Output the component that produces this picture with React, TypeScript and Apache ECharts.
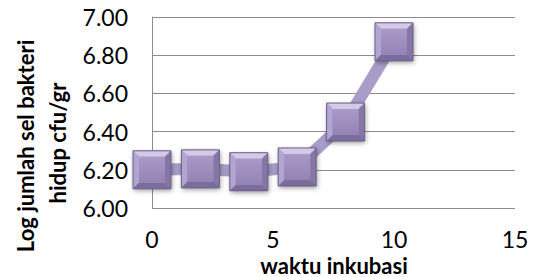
import React, { useEffect, useRef } from "react";
import * as echarts from "echarts";

const incubationTimes = [0, 2, 4, 6, 8, 10];
const logCounts = [6.2, 6.205, 6.19, 6.215, 6.45, 6.87];
const yAxisTitleLines = ["Log jumlah sel bakteri", "hidup cfu/gr"];
const xAxisTitle = "waktu inkubasi";

const FONT = "Lato, 'DejaVu Sans', sans-serif";

export default function App() {
  const ref = useRef<HTMLDivElement>(null);
  useEffect(() => {
    if (!ref.current) return;
    const chart = echarts.init(ref.current, undefined, { renderer: "svg" });
    const points = incubationTimes.map((x, i) => [x, logCounts[i]]);
    chart.setOption({
      animation: false,
      backgroundColor: "#ffffff",
      grid: { left: 152, right: 19, top: 17, bottom: 69 },
      xAxis: {
        type: "value",
        min: 0,
        max: 15,
        interval: 5,
        axisLine: { show: false },
        axisTick: { show: false },
        splitLine: { show: false },
        axisLabel: { color: "#000", fontSize: 23, fontFamily: FONT, margin: 19 },
      },
      yAxis: {
        type: "value",
        min: 6,
        max: 7,
        interval: 0.2,
        axisLine: { show: true, lineStyle: { color: "#8c8c8c", width: 1 } },
        axisTick: { show: false },
        splitLine: { show: true, lineStyle: { color: "#8c8c8c", width: 1 } },
        axisLabel: {
          color: "#000",
          fontSize: 23,
          fontFamily: FONT,
          margin: 24,
          formatter: (v: number) => v.toFixed(2),
        },
      },
      graphic: [
        {
          type: "text",
          x: 25,
          y: 146,
          rotation: Math.PI / 2,
          style: {
            text: yAxisTitleLines[0],
            font: `bold 22px ${FONT}`,
            fill: "#000",
            textAlign: "center",
            textVerticalAlign: "middle",
          },
        },
        {
          type: "text",
          x: 57,
          y: 143,
          rotation: Math.PI / 2,
          style: {
            text: yAxisTitleLines[1],
            font: `bold 22px ${FONT}`,
            fill: "#000",
            textAlign: "center",
            textVerticalAlign: "middle",
          },
        },
        {
          type: "text",
          x: 334,
          y: 265,
          style: {
            text: xAxisTitle,
            font: `bold 22px ${FONT}`,
            fill: "#000",
            textAlign: "center",
            textVerticalAlign: "middle",
          },
        },
      ],
      series: [
        {
          type: "line",
          data: points,
          showSymbol: false,
          lineStyle: { color: "#a89cc8", width: 12 },
          z: 1,
        },
        {
          type: "custom",
          data: points,
          z: 2,
          renderItem: (params: any, api: any) => {
            const p = api.coord([api.value(0), api.value(1)]);
            const s = 38;
            const h = s / 2;
            const b = 6;
            const x0 = p[0] - h,
              x1 = p[0] + h,
              y0 = p[1] - h,
              y1 = p[1] + h;
            return {
              type: "group",
              children: [
                {
                  type: "rect",
                  shape: { x: x0, y: y0, width: s, height: s },
                  style: {
                    fill: "#9a8bb9",
                    shadowBlur: 5,
                    shadowColor: "rgba(0,0,0,0.4)",
                    shadowOffsetX: 1,
                    shadowOffsetY: 2,
                  },
                },
                {
                  type: "polygon",
                  shape: { points: [[x0, y0], [x1, y0], [x1 - b, y0 + b], [x0 + b, y0 + b]] },
                  style: { fill: "#d4c9e7" },
                },
                {
                  type: "polygon",
                  shape: { points: [[x0, y0], [x0 + b, y0 + b], [x0 + b, y1 - b], [x0, y1]] },
                  style: { fill: "#b3a5d2" },
                },
                {
                  type: "polygon",
                  shape: { points: [[x1, y0], [x1, y1], [x1 - b, y1 - b], [x1 - b, y0 + b]] },
                  style: { fill: "#8576a6" },
                },
                {
                  type: "polygon",
                  shape: { points: [[x0, y1], [x0 + b, y1 - b], [x1 - b, y1 - b], [x1, y1]] },
                  style: { fill: "#7a6c9b" },
                },
                {
                  type: "rect",
                  shape: { x: x0 + b, y: y0 + b, width: s - 2 * b, height: s - 2 * b },
                  style: {
                    fill: new echarts.graphic.LinearGradient(0, 0, 0, 1, [
                      { offset: 0, color: "#a999c9" },
                      { offset: 1, color: "#9484b5" },
                    ]),
                  },
                },
                {
                  type: "rect",
                  shape: { x: x0, y: y0, width: s, height: s },
                  style: { fill: "none", stroke: "#6a6088", lineWidth: 1 },
                },
              ],
            };
          },
        },
      ],
    });
    return () => chart.dispose();
  }, []);
  return <div ref={ref} style={{ width: 534, height: 277, position: "absolute", left: 0, top: 0 }} />;
}
